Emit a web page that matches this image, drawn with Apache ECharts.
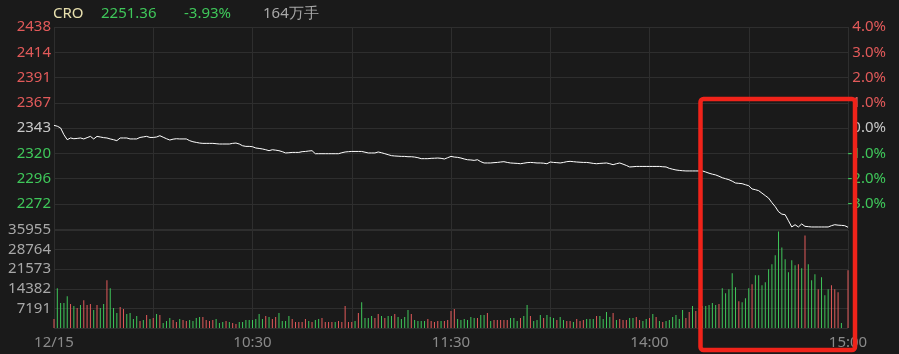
<!DOCTYPE html>
<html>
<head>
<meta charset="utf-8">
<script src="https://cdn.jsdelivr.net/npm/echarts@6/dist/echarts.min.js"></script>
<style>
  html, body { margin: 0; padding: 0; background: #1a1a1a; }
  #chart { width: 899px; height: 354px; }
</style>
</head>
<body>
<div id="chart"></div>
<script>
// header
var symbol = 'CRO';
var prevClose = 2343.46;
var totalVolume = '164万手';

// axis tick labels
var priceTicks = ['2438', '2414', '2391', '2367', '2343', '2320', '2296', '2272']; // +4% .. -3%
var volTicks = ['7191', '14382', '21573', '28764', '35955'];
var timeTicks = ['12/15', '10:30', '11:30', '14:00', '15:00'];

// minute prices, 9:30 .. 15:00
var prices = [
  2345.9, 2345.1, 2343.5, 2337.2, 2332.6, 2334.2, 2333.5, 2333.8, 2334.2, 2333.3,
  2334.5, 2335.7, 2333.3, 2335.7, 2335.1, 2334.5, 2334.2, 2333.3, 2332.6, 2331.7,
  2334.2, 2334.2, 2334.2, 2333.3, 2333.3, 2333.3, 2334.7, 2335.2, 2335.7, 2334.7,
  2334.7, 2335.1, 2336.3, 2334.9, 2333.5, 2332.3, 2333.1, 2333.5, 2333.3, 2333.3,
  2333.3, 2331.7, 2330.7, 2330.1, 2329.5, 2329.2, 2329.2, 2329.2, 2329.2, 2328.9,
  2328.6, 2328.6, 2328.6, 2328.6, 2329.2, 2329.5, 2328.6, 2327.0, 2326.4, 2326.4,
  2326.1, 2324.9, 2324.5, 2324.0, 2323.3, 2322.4, 2323.3, 2322.9, 2322.4, 2321.5,
  2320.3, 2320.5, 2320.8, 2320.8, 2320.8, 2321.5, 2321.7, 2322.1, 2322.4, 2319.6,
  2319.6, 2319.6, 2319.6, 2319.6, 2319.6, 2319.6, 2319.6, 2320.5, 2321.2, 2321.5,
  2321.7, 2321.7, 2321.7, 2321.7, 2321.0, 2320.3, 2320.3, 2320.3, 2321.2, 2320.5,
  2319.6, 2318.7, 2317.8, 2317.5, 2317.3, 2317.1, 2317.1, 2316.8, 2316.8, 2316.5,
  2315.9, 2315.0, 2315.0, 2315.0, 2315.3, 2315.4, 2315.6, 2315.3, 2314.7, 2315.9,
  2317.1, 2316.5, 2316.2, 2315.6, 2314.7, 2314.0, 2313.8, 2313.4, 2314.0, 2312.2,
  2311.0, 2311.0, 2311.0, 2311.3, 2311.5, 2311.9, 2312.2, 2311.5, 2311.0, 2310.8,
  2310.6, 2310.3, 2310.8, 2311.3, 2311.5, 2311.3, 2311.0, 2311.0, 2310.8, 2310.3,
  2311.9, 2311.5, 2311.3, 2311.0, 2311.5, 2312.2, 2312.5, 2312.2, 2311.9, 2311.7,
  2311.5, 2311.5, 2311.1, 2310.6, 2310.3, 2310.6, 2310.8, 2311.0, 2310.3, 2309.4,
  2310.3, 2311.0, 2309.9, 2308.7, 2307.3, 2307.5, 2307.8, 2307.8, 2307.8, 2307.8,
  2307.8, 2307.8, 2307.8, 2307.8, 2307.5, 2307.3, 2306.0, 2305.2, 2304.5, 2304.1,
  2303.8, 2303.6, 2303.6, 2303.6, 2303.6, 2303.6, 2303.6, 2302.6, 2301.5, 2300.6,
  2299.9, 2298.7, 2297.3, 2296.4, 2295.5, 2294.1, 2292.4, 2292.1, 2291.8, 2290.8,
  2289.9, 2286.9, 2286.2, 2285.3, 2283.0, 2280.7, 2278.4, 2274.2, 2270.5, 2265.8,
  2263.5, 2263.0, 2257.4, 2251.6, 2253.7, 2251.6, 2254.4, 2252.2, 2251.9, 2251.6,
  2251.6, 2251.6, 2251.6, 2251.6, 2251.6, 2252.8, 2253.7, 2253.3, 2253.1, 2252.8,
  2251.36
];

// minute volumes (手)
var volumes = [
  3290, 14600, 9130, 9130, 11680, 8760, 8030, 7300, 8400, 10220,
  8400, 8760, 6570, 8400, 7300, 8760, 17520, 14600, 7300, 5480,
  7670, 6940, 5110, 5480, 3290, 4380, 2560, 2920, 4750, 3290,
  3650, 5110, 4750, 1830, 2560, 3650, 2920, 2190, 3290, 2920,
  2560, 2920, 2560, 3650, 4020, 4020, 2920, 2560, 2920, 3290,
  1830, 2190, 2560, 2190, 1830, 1460, 2190, 2190, 2920, 2920,
  2920, 3290, 5110, 3290, 4380, 4020, 3290, 4020, 5480, 2560,
  2560, 4380, 3290, 2190, 2190, 2190, 3290, 2560, 2190, 2920,
  3290, 3650, 2190, 2190, 2190, 2190, 2560, 2190, 8030, 2190,
  2190, 2560, 5480, 9490, 3650, 3650, 4380, 3650, 5110, 4380,
  3650, 4380, 4380, 5110, 4020, 3290, 4020, 6570, 5110, 2920,
  2560, 2560, 2560, 3290, 2560, 2190, 2560, 2560, 2560, 2920,
  6210, 6940, 3290, 2920, 3290, 2920, 4020, 3650, 3650, 4750,
  4750, 5480, 2560, 2920, 2920, 2920, 2920, 2920, 3650, 3650,
  2560, 3650, 4380, 8400, 4380, 2560, 2920, 4750, 3650, 4750,
  4020, 3650, 2920, 4020, 2920, 2560, 2560, 2190, 3290, 2560,
  2920, 3290, 3290, 3290, 4380, 4380, 3290, 5840, 4020, 5480,
  2920, 3290, 2920, 2920, 3650, 3650, 4020, 2920, 2560, 3290,
  3650, 5110, 4020, 2560, 2190, 2560, 2920, 4020, 4750, 3290,
  6570, 3650, 5840, 8030, 6210, 7300, 8030, 8030, 8400, 9130,
  8400, 8760, 14600, 12780, 14240, 20080, 14970, 9860, 9490, 10950,
  14600, 16060, 19350, 19350, 15700, 16790, 21540, 23360, 26650, 35410,
  29570, 25190, 20440, 24820, 23000, 23360, 21900, 33950, 23360, 17520,
  19710, 14240, 18620, 12050, 14240, 15700, 14240, 13140, 1830, 0,
  21170
];

// bar colour per minute: r = up, g = down
var volSide = (
  'rggggrgrgr' + 'rrgrggrggg' + 'rrggggrgrg' + 'rgrgggrrgr' + 'rggggrrrrg' +
  'ggrgrrgggg' + 'ggggrgrrgg' + 'ggrrrrrgrg' + 'grrrrgrrrr' + 'rgrggggrrg' +
  'rggrggggrg' + 'gggrrrrgrr' + 'rrggggggrg' + 'grgrrrrrgg' + 'grggrgggrg' +
  'ggrggrrgrr' + 'rgggrggggr' + 'grrrggrrgg' + 'rgrgrggggg' + 'grrgrggggg' +
  'grgggggrgg' + 'grgggggggg' + 'gggggrgrgg' + 'grgggrrrgg' + 'r'
).split('');

var RED = '#e25a5a', GREEN = '#3fc75a', GREY = '#c8c8c8';
var FONT = 'Noto Sans';

var times = [];
function pad(n) { return n < 10 ? '0' + n : '' + n; }
for (var m = 9 * 60 + 30; m <= 11 * 60 + 30; m++) times.push(Math.floor(m / 60) + ':' + pad(m % 60));
for (var m2 = 13 * 60 + 1; m2 <= 15 * 60; m2++) times.push(Math.floor(m2 / 60) + ':' + pad(m2 % 60));

var pct = prices.map(function (p) { return (p / prevClose - 1) * 100; });
var last = prices[prices.length - 1];
var chg = (last / prevClose - 1) * 100;

var volData = volumes.map(function (v, i) {
  return { value: v, itemStyle: { color: volSide[i] === 'r' ? RED : GREEN } };
});

function signColor(v) {
  v = Number(v);
  return v > 0.001 ? RED : (v < -0.001 ? GREEN : GREY);
}

var chart = echarts.init(document.getElementById('chart'));
var gridLine = { show: true, lineStyle: { color: '#2e2e2e', width: 1 } };
var vSplit = { show: true, interval: function (i) { return i % 30 === 0; }, lineStyle: { color: '#2e2e2e', width: 1 } };

var option = {
  backgroundColor: '#1a1a1a',
  animation: false,
  textStyle: { fontFamily: FONT },
  grid: [
    { left: 54, top: 27, width: 794, height: 202 },
    { left: 54, top: 230, width: 794, height: 98 }
  ],
  xAxis: [
    {
      type: 'category', gridIndex: 0, data: times, boundaryGap: false,
      axisLine: { show: false }, axisTick: { show: false }, axisLabel: { show: false },
      splitLine: vSplit
    },
    {
      type: 'category', gridIndex: 1, data: times, boundaryGap: false,
      axisLine: { show: false }, axisTick: { show: false },
      axisLabel: {
        color: '#8a8a8a', fontSize: 15, fontFamily: FONT, margin: 7,
        interval: function (i) { return i % 60 === 0; },
        formatter: function (v, i) { return timeTicks[i / 60] || ''; }
      },
      splitLine: vSplit
    }
  ],
  yAxis: [
    {
      type: 'value', gridIndex: 0, position: 'left', min: -4, max: 4, interval: 1,
      axisLine: { show: false }, axisTick: { show: false },
      axisLabel: {
        fontSize: 15, fontFamily: FONT, margin: 3,
        color: signColor,
        formatter: function (v) { var k = Math.round(4 - v); return priceTicks[k] || ''; }
      },
      splitLine: gridLine
    },
    {
      type: 'value', gridIndex: 0, position: 'right', min: -4, max: 4, interval: 1,
      axisLine: { show: false }, axisTick: { show: false },
      axisLabel: {
        fontSize: 15, fontFamily: FONT, margin: 38, align: 'right',
        color: signColor,
        formatter: function (v) { return v <= -4 ? '' : v.toFixed(1) + '%'; }
      },
      splitLine: { show: false }
    },
    {
      type: 'value', gridIndex: 1, position: 'left', min: 0, max: 35955, interval: 7191,
      axisLine: { show: false }, axisTick: { show: false },
      axisLabel: {
        fontSize: 15, fontFamily: FONT, margin: 3, color: '#a8a8a8',
        formatter: function (v) { var k = Math.round(v / 7191) - 1; return k >= 0 ? volTicks[k] : ''; }
      },
      splitLine: gridLine
    }
  ],
  series: [
    {
      type: 'line', xAxisIndex: 0, yAxisIndex: 0, data: pct,
      showSymbol: false, symbol: 'none',
      lineStyle: { color: '#ffffff', width: 1 }
    },
    {
      type: 'bar', xAxisIndex: 1, yAxisIndex: 2, data: volData, barWidth: 1
    }
  ],
  graphic: [
    { type: 'text', left: 53, top: 6, style: { text: symbol, fill: '#e8e0ae', font: '15px ' + FONT } },
    { type: 'text', left: 101, top: 6, style: { text: last.toFixed(2), fill: GREEN, font: '15px ' + FONT } },
    { type: 'text', left: 184, top: 6, style: { text: chg.toFixed(2) + '%', fill: GREEN, font: '15px ' + FONT } },
    { type: 'text', left: 263, top: 6, style: { text: totalVolume, fill: '#a8a8a8', font: '15px ' + FONT } },
    {
      type: 'rect', z: 100,
      shape: { x: 700.5, y: 99, width: 154.5, height: 251, r: 3 },
      style: { fill: 'none', stroke: '#f0231a', lineWidth: 4.5 }
    }
  ]
};
chart.setOption(option);
</script>
</body>
</html>
